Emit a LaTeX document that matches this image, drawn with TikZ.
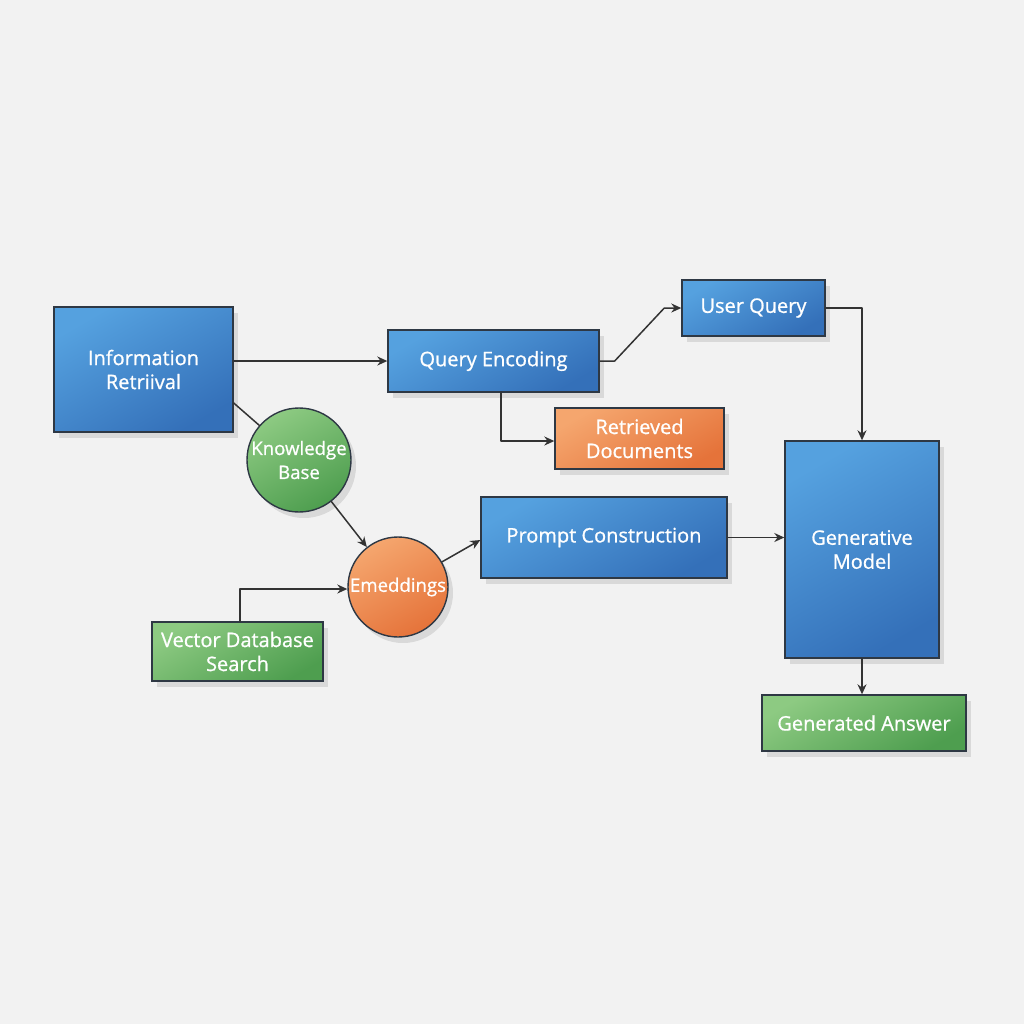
\documentclass[tikz,border=0pt]{standalone}
\usepackage{fontspec}
\setmainfont{Open Sans}[FakeBold=0.9]
\usetikzlibrary{arrows.meta,positioning,shadows}
\definecolor{bgcol}{HTML}{F2F2F2}
\definecolor{blueA}{HTML}{55A1DF}
\definecolor{blueB}{HTML}{3470B9}
\definecolor{orangeA}{HTML}{F5A66E}
\definecolor{orangeB}{HTML}{E5733A}
\definecolor{greenA}{HTML}{8DCA82}
\definecolor{greenB}{HTML}{4E9E4F}
\definecolor{edgecol}{HTML}{333333}
\definecolor{rimcol}{HTML}{2E3844}
\begin{document}
\begin{tikzpicture}[x=0.5pt,y=-0.5pt]
\tikzset{
  flowbox/.style={rectangle,draw=rimcol,line width=0.7pt,text=white,align=center,
    font=\fontsize{10}{12}\selectfont,inner sep=2pt,
    drop shadow={shadow xshift=2.5pt,shadow yshift=-3pt,opacity=0.1,fill=black}},
  flowdisc/.style={flowbox,circle,inner sep=0pt},
  bluefill/.style={top color=blueA,bottom color=blueB,shading angle=30},
  orangefill/.style={top color=orangeA,bottom color=orangeB,shading angle=30},
  greenfill/.style={top color=greenA,bottom color=greenB,shading angle=30},
  disctext/.style={text=white,align=center,font=\fontsize{9.3}{12}\selectfont},
  flowedge/.style={draw=edgecol,line width=0.75pt,line cap=round,line join=round},
  directed/.style={flowedge,-{Stealth[length=5pt,width=4.5pt]}},
  undirected/.style={flowedge}
}
\fill[bgcol] (0,0) rectangle (1024,1024);
\node[flowbox,bluefill,minimum width=89.5pt,minimum height=62.5pt] (n_ir) at (143.5,369.5) {Information\\Retriival};
\node[flowbox,bluefill,minimum width=105.5pt,minimum height=31pt] (n_qe) at (493.5,361) {Query Encoding};
\node[flowbox,bluefill,minimum width=71.5pt,minimum height=28pt] (n_uq) at (753.5,308) {User Query};
\node[flowbox,orangefill,minimum width=84.5pt,minimum height=30.5pt] (n_rd) at (639.5,438.5) {Retrieved\\Documents};
\node[flowdisc,greenfill,minimum size=52pt,label={[disctext]center:Knowledge\\Base}] (n_kb) at (299,460) {};
\node[flowdisc,orangefill,minimum size=50pt,label={[disctext]center:Emeddings}] (n_emb) at (398,587) {};
\node[flowbox,bluefill,minimum width=123pt,minimum height=40.5pt] (n_pc) at (604,537.5) {Prompt Construction};
\node[flowbox,bluefill,minimum width=77pt,minimum height=108.5pt] (n_gm) at (862,549.5) {Generative\\Model};
\node[flowbox,greenfill,minimum width=85.5pt,minimum height=29.5pt] (n_vds) at (237.5,651.5) {Vector Database\\Search};
\node[flowbox,greenfill,minimum width=102pt,minimum height=28pt] (n_ga) at (864,723) {Generated Answer};
\draw[directed] (n_ir.east |- n_qe.west) -- (n_qe.west);
\draw[directed] (n_qe.east) -- ++(15,0) -- ([xshift=-8.5pt]n_uq.west) -- (n_uq.west);
\draw[directed] ([xshift=3.75pt]n_qe.south) |- ([yshift=-1.25pt]n_rd.west);
\draw[directed] (n_uq.east) -| (n_gm.north);
\draw[undirected] ([yshift=-16.75pt]n_ir.east) -- (n_kb);
\draw[directed] (n_kb) -- (n_emb);
\draw[directed] ([xshift=1.25pt]n_vds.north) |- ([yshift=-1pt]n_emb.west);
\draw[directed] (n_emb) -- ([yshift=-1.25pt]n_pc.west);
\draw[directed] (n_pc.east) -- (n_gm.west |- n_pc.east);
\draw[directed] (n_gm.south) -- (n_gm.south |- n_ga.north);
\end{tikzpicture}
\end{document}
